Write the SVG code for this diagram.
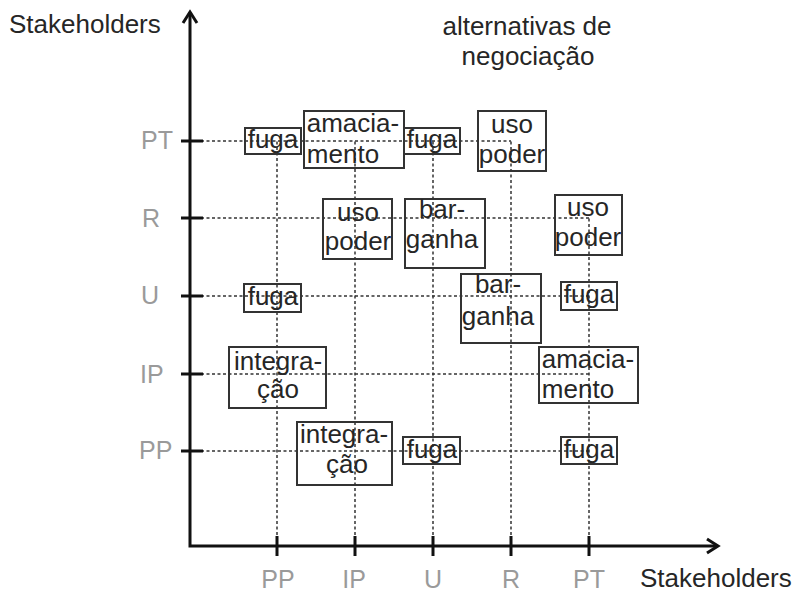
<svg xmlns="http://www.w3.org/2000/svg" width="796" height="593" viewBox="0 0 796 593">
  <style>
    text { font-family: "Liberation Sans", Arial, sans-serif; font-size: 26px; fill: #262626; }
    .tick-label { fill: #9a9a9a; font-size: 25px; }
    .center { text-anchor: middle; }
    .axis { stroke: #111; stroke-width: 3; fill: none; }
    .grid { stroke: #333; stroke-width: 1.5; stroke-dasharray: 3 2.5; fill: none; }
    .box { stroke: #333; stroke-width: 2; fill: none; }
  </style>

  <!-- dotted guide lines -->
  <g id="connectors">
    <line class="grid" x1="190" y1="141" x2="511" y2="141"/>
    <line class="grid" x1="190" y1="218" x2="589" y2="218"/>
    <line class="grid" x1="190" y1="296" x2="589" y2="296"/>
    <line class="grid" x1="190" y1="374" x2="589" y2="374"/>
    <line class="grid" x1="190" y1="451" x2="589" y2="451"/>
    <line class="grid" x1="277" y1="546" x2="277" y2="141"/>
    <line class="grid" x1="355" y1="546" x2="355" y2="141"/>
    <line class="grid" x1="433" y1="546" x2="433" y2="141"/>
    <line class="grid" x1="511" y1="546" x2="511" y2="141"/>
    <line class="grid" x1="589" y1="546" x2="589" y2="218"/>
  </g>

  <!-- axes with ticks -->
  <g id="axes">
    <polyline class="axis" points="190,12 190,546 717,546"/>
    <polyline class="axis" points="183,23 190,12 197,23"/>
    <polyline class="axis" points="707,539 718,546 707,553"/>
    <line class="axis" x1="181" y1="141" x2="203" y2="141"/>
    <line class="axis" x1="181" y1="218" x2="203" y2="218"/>
    <line class="axis" x1="181" y1="296" x2="203" y2="296"/>
    <line class="axis" x1="181" y1="374" x2="203" y2="374"/>
    <line class="axis" x1="181" y1="451" x2="203" y2="451"/>
    <line class="axis" x1="277" y1="536" x2="277" y2="556"/>
    <line class="axis" x1="355" y1="536" x2="355" y2="556"/>
    <line class="axis" x1="433" y1="536" x2="433" y2="556"/>
    <line class="axis" x1="511" y1="536" x2="511" y2="556"/>
    <line class="axis" x1="589" y1="536" x2="589" y2="556"/>
  </g>

  <!-- axis labels -->
  <g id="labels">
    <text x="9" y="33">Stakeholders</text>
    <text x="640" y="587">Stakeholders</text>
    <text class="center" x="527" y="35">alternativas de</text>
    <text class="center" x="528" y="65">negociação</text>
    <text class="tick-label" x="141" y="149">PT</text>
    <text class="tick-label" x="142" y="227">R</text>
    <text class="tick-label" x="141" y="304">U</text>
    <text class="tick-label" x="140" y="383">IP</text>
    <text class="tick-label" x="139" y="459">PP</text>
    <text class="tick-label center" x="278" y="588">PP</text>
    <text class="tick-label center" x="354" y="588">IP</text>
    <text class="tick-label center" x="433" y="588">U</text>
    <text class="tick-label center" x="511" y="588">R</text>
    <text class="tick-label center" x="589" y="588">PT</text>
  </g>

  <!-- row PT -->
  <g id="pt-pp"><rect class="box" x="245" y="128" width="56" height="26"/><text class="center" x="273" y="148">fuga</text></g>
  <g id="pt-ip"><rect class="box" x="304" y="111" width="100" height="57"/><text class="center" x="353" y="132">amacia-</text><text class="center" x="343" y="163">mento</text></g>
  <g id="pt-u"><rect class="box" x="404" y="128" width="56" height="26"/><text class="center" x="432" y="148">fuga</text></g>
  <g id="pt-r"><rect class="box" x="478" y="111" width="68" height="60"/><text class="center" x="512" y="133">uso</text><text class="center" x="512" y="163">poder</text></g>

  <!-- row R -->
  <g id="r-ip"><rect class="box" x="323" y="199" width="69" height="60"/><text class="center" x="358" y="221">uso</text><text class="center" x="358" y="250">poder</text></g>
  <g id="r-u"><rect class="box" x="405" y="199" width="80" height="69"/><text class="center" x="442" y="218">bar-</text><text class="center" x="442" y="248">ganha</text></g>
  <g id="r-pt"><rect class="box" x="555" y="195" width="67" height="60"/><text class="center" x="588" y="216">uso</text><text class="center" x="588" y="246">poder</text></g>

  <!-- row U -->
  <g id="u-pp"><rect class="box" x="244" y="284" width="57" height="28"/><text class="center" x="273" y="305">fuga</text></g>
  <g id="u-r"><rect class="box" x="461" y="274" width="80" height="69"/><text class="center" x="498" y="293">bar-</text><text class="center" x="498" y="325">ganha</text></g>
  <g id="u-pt"><rect class="box" x="561" y="282" width="56" height="28"/><text class="center" x="589" y="303">fuga</text></g>

  <!-- row IP -->
  <g id="ip-pp"><rect class="box" x="229" y="347" width="97" height="61"/><text class="center" x="278" y="370">integra-</text><text class="center" x="278" y="398">ção</text></g>
  <g id="ip-pt"><rect class="box" x="539" y="347" width="99" height="56"/><text class="center" x="588" y="368">amacia-</text><text class="center" x="578" y="398">mento</text></g>

  <!-- row PP -->
  <g id="pp-ip"><rect class="box" x="297" y="422" width="95" height="63"/><text class="center" x="344" y="443">integra-</text><text class="center" x="347" y="473">ção</text></g>
  <g id="pp-u"><rect class="box" x="403" y="437" width="57" height="27"/><text class="center" x="432" y="458">fuga</text></g>
  <g id="pp-pt"><rect class="box" x="561" y="437" width="56" height="27"/><text class="center" x="589" y="458">fuga</text></g>
</svg>
